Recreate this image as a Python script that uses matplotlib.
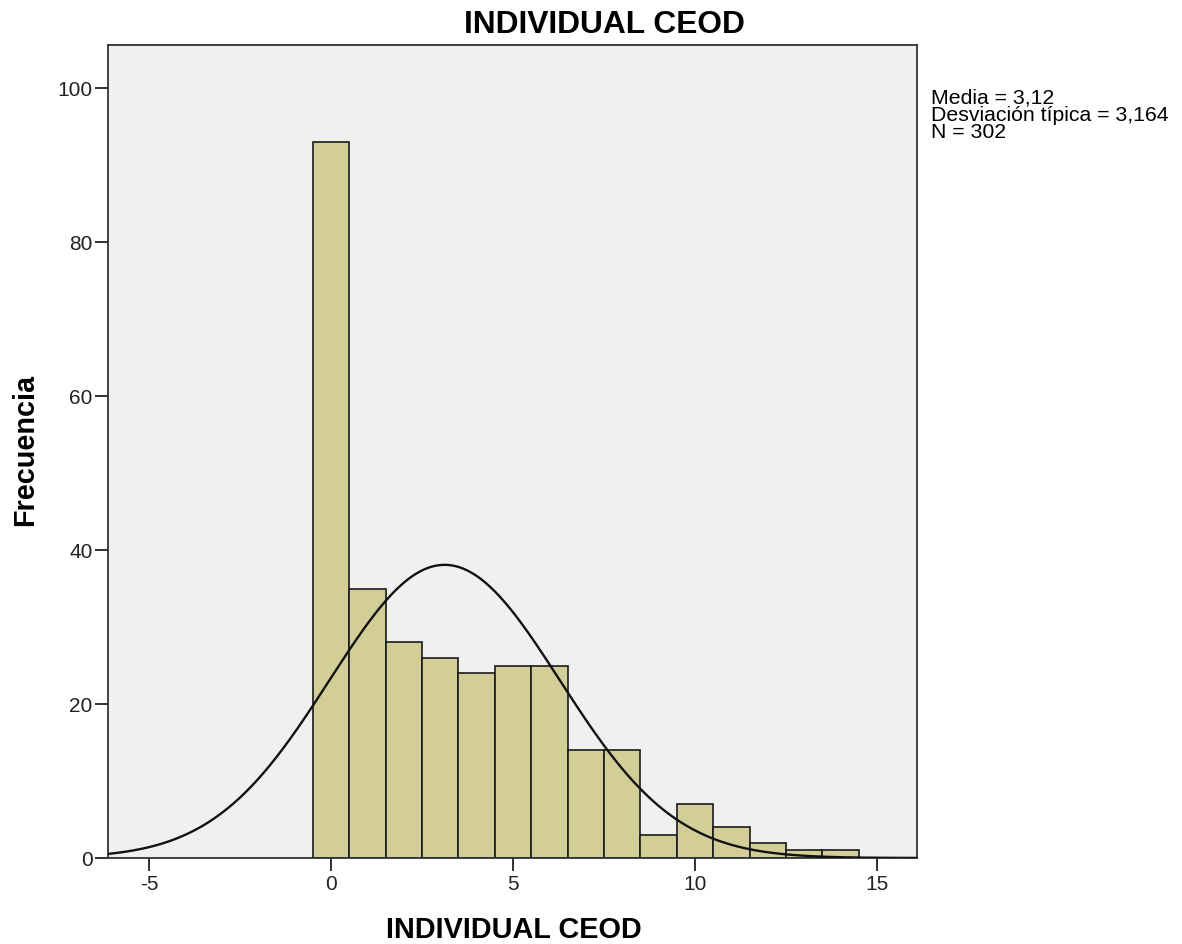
import numpy as np
import matplotlib
matplotlib.use("Agg")
import matplotlib.pyplot as plt

plt.rcParams['font.family'] = ['Liberation Sans', 'DejaVu Sans']

# Data
bin_centers = [0, 1, 2, 3, 4, 5, 6, 7, 8, 9, 10, 11, 12, 13, 14]
counts = [93, 35, 28, 26, 24, 25, 25, 14, 14, 3, 7, 4, 2, 1, 1]
mean = 3.12
std = 3.164
n_total = 302
x_ticks = [-5, 0, 5, 10, 15]
y_ticks = [0, 20, 40, 60, 80, 100]

fig = plt.figure(figsize=(11.82, 9.44), dpi=100)
ax = fig.add_axes([108/1182, 86/944, (917-108)/1182, (858-45)/944])
ax.set_facecolor('#F0F0F0')

ax.bar(bin_centers, counts, width=1.0, color='#D3CE97', edgecolor='#1a1a1a', linewidth=1.2, zorder=2)

xmin, xmax = -6.13, 16.1
xs = np.linspace(xmin, xmax, 500)
ys = n_total * 1.0 / (std * np.sqrt(2 * np.pi)) * np.exp(-0.5 * ((xs - mean) / std) ** 2)
ax.plot(xs, ys, color='#111111', linewidth=1.7, zorder=3)

ax.set_xlim(xmin, xmax)
ax.set_ylim(0, 105.6)
ax.set_xticks(x_ticks)
ax.set_xticklabels([str(t) for t in x_ticks])
ax.set_yticks(y_ticks)
ax.set_yticklabels([str(t) for t in y_ticks])
ax.tick_params(axis='both', direction='out', length=9.5, width=1.3, labelsize=15, colors='#222222')
ax.tick_params(axis='x', pad=3)
ax.tick_params(axis='y', pad=1.5)
for s in ax.spines.values():
    s.set_color('#333333')
    s.set_linewidth(1.3)

fig.text((463+746)/2/1182, 1 - 33/944, 'INDIVIDUAL CEOD', ha='center', va='baseline',
         fontsize=22.9, fontweight='bold')
fig.text((385+642)/2/1182, 6/944, 'INDIVIDUAL CEOD', ha='center', va='baseline',
         fontsize=20.8, fontweight='bold')
fig.text(25/1182, 1 - 450/944, 'Frecuencia', ha='center', va='center', rotation=90,
         fontsize=20.8, fontweight='bold')

fig.text(931/1182, 1 - 89/944, 'Media = 3,12\nDesviación típica = 3,164\nN = 302',
         ha='left', va='top', fontsize=15.3, linespacing=0.87)

fig.savefig('out.png', dpi=100)
